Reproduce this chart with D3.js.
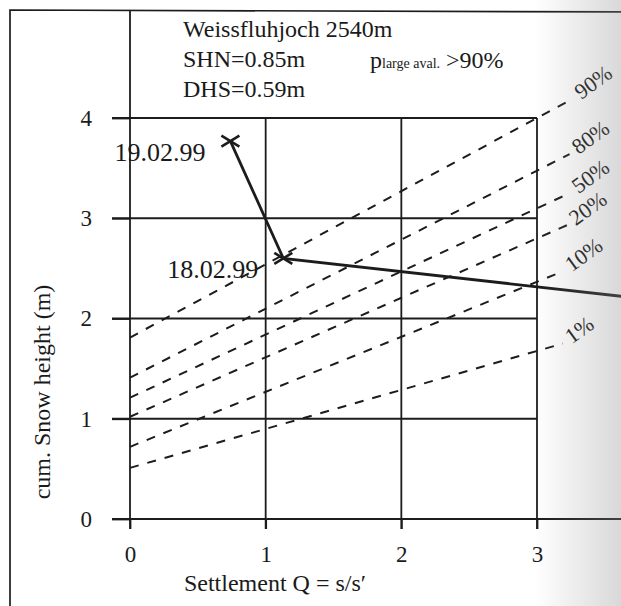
<!DOCTYPE html>
<html><head><meta charset="utf-8">
<script src="https://cdn.jsdelivr.net/npm/d3@7"></script>
<style>
body{margin:0;background:#fff}
svg{display:block}
text{font-family:"Liberation Serif","Times New Roman",serif;fill:#1a1a1a}
</style>
</head><body>
<svg id="c" width="621" height="606"></svg>
<script>
// ---- data ----
const xTicks = [0, 1, 2, 3];
const yTicks = [0, 1, 2, 3, 4];
const probLabels = ["90%", "80%", "50%", "20%", "10%", "1%"];
const probStartY = [1.81, 1.41, 1.21, 1.02, 0.72, 0.51];
const probEndX   = [3.26, 3.24, 3.24, 3.22, 3.19, 3.19];
const probEndY   = [4.19, 3.64, 3.25, 2.93, 2.47, 1.75];
const dates = ["19.02.99", "18.02.99"];
const settlementQ = [0.74, 1.13, 3.7];
const snowHeight  = [3.77, 2.60, 2.21];
const infoLines = ["Weissfluhjoch 2540m", "SHN=0.85m", "DHS=0.59m"];
const xTitle = "Settlement Q = s/s\u2032";
const yTitle = "cum. Snow height (m)";

// ---- drawing ----
const svg = d3.select("#c");
const ink = "#1c1c1c";
const x = d3.scaleLinear().domain([0, 3]).range([130, 537]);
const y = d3.scaleLinear().domain([0, 4]).range([519, 118]);

const defs = svg.append("defs");
const g1 = defs.append("linearGradient").attr("id", "shade").attr("x1", 0).attr("x2", 1).attr("y1", 0).attr("y2", 0);
g1.append("stop").attr("offset", "0%").attr("stop-color", "#8a8a8a").attr("stop-opacity", 0);
g1.append("stop").attr("offset", "100%").attr("stop-color", "#8a8a8a").attr("stop-opacity", 0.33);

// outer frame
svg.append("path").attr("d", "M10,640 L10,10 L640,12")
  .attr("fill", "none").attr("stroke", ink).attr("stroke-width", 1.7);

// grid: horizontal
svg.append("g").selectAll("line").data(yTicks).join("line")
  .attr("x1", 112).attr("x2", d => d === 0 ? 621 : x(3))
  .attr("y1", d => y(d)).attr("y2", d => y(d))
  .attr("stroke", ink).attr("stroke-width", 1.8);
// grid: vertical
svg.append("g").selectAll("line").data(xTicks).join("line")
  .attr("x1", d => x(d)).attr("x2", d => x(d))
  .attr("y1", d => d === 0 ? 10 : y(4)).attr("y2", y(0) + 10)
  .attr("stroke", ink).attr("stroke-width", 1.8);

// axes (labels)
const yAx = svg.append("g").attr("transform", `translate(${x(0)},0)`)
  .call(d3.axisLeft(y).tickValues(yTicks).tickSize(18).tickPadding(20).tickFormat(d3.format("d")));
const xAx = svg.append("g").attr("transform", `translate(0,${y(0)})`)
  .call(d3.axisBottom(x).tickValues(xTicks).tickSize(10).tickPadding(17).tickFormat(d3.format("d")));
[yAx, xAx].forEach(a => {
  a.select(".domain").remove();
  a.selectAll(".tick line").attr("stroke", ink).attr("stroke-width", 1.8);
  a.selectAll(".tick text").attr("font-family", "Liberation Serif").attr("font-size", 23).attr("fill", ink);
});

// axis titles
svg.append("text").attr("x", 275).attr("y", 591).attr("text-anchor", "middle")
  .attr("font-size", 24).text(xTitle);
svg.append("text").attr("transform", "translate(50,392) rotate(-90)").attr("text-anchor", "middle")
  .attr("font-size", 24).text(yTitle);

// info text
svg.append("g").selectAll("text").data(infoLines).join("text")
  .attr("x", 183).attr("y", (d, i) => 37 + i * 30).attr("font-size", 24).text(d => d);
const pt = svg.append("text").attr("x", 370).attr("y", 68).attr("font-size", 24);
pt.append("tspan").text("p");
pt.append("tspan").attr("font-size", 14).text("large aval.");
svg.append("text").attr("x", 446).attr("y", 68).attr("font-size", 24).text(">90%");

// probability lines
const probData = probLabels.map((l, i) => ({label: l, pts: [[0, probStartY[i]], [probEndX[i], probEndY[i]]]}));
const lineGen = d3.line().x(d => x(d[0])).y(d => y(d[1]));
svg.append("g").selectAll("path").data(probData).join("path")
  .attr("d", d => lineGen(d.pts)).attr("fill", "none")
  .attr("stroke", ink).attr("stroke-width", 2).attr("stroke-dasharray", "9,9");
svg.append("g").selectAll("text").data(probData).join("text")
  .attr("transform", d => `translate(${x(d.pts[1][0]) + 9},${y(d.pts[1][1]) + 1}) rotate(-36)`)
  .attr("font-size", 22).text(d => d.label);

// snow series
const snow = settlementQ.map((q, i) => [q, snowHeight[i]]);
svg.append("path").attr("d", lineGen(snow)).attr("fill", "none")
  .attr("stroke", ink).attr("stroke-width", 2.8);
const marks = svg.append("g").selectAll("g").data(snow.slice(0, dates.length)).join("g")
  .attr("transform", d => `translate(${x(d[0])},${y(d[1])})`);
marks.append("path").attr("d", "M-9,-5.5L9,5.5M-9,5.5L9,-5.5")
  .attr("stroke", ink).attr("stroke-width", 2.6).attr("fill", "none");
svg.append("g").selectAll("text").data(dates).join("text")
  .attr("x", (d, i) => x(snow[i][0]) - 25).attr("y", (d, i) => y(snow[i][1]) + 20)
  .attr("text-anchor", "end").attr("font-size", 26).text(d => d);

// scan shading at the right edge
svg.append("rect").attr("x", 535).attr("y", 0).attr("width", 86).attr("height", 606)
  .attr("fill", "url(#shade)");
</script>
</body></html>
